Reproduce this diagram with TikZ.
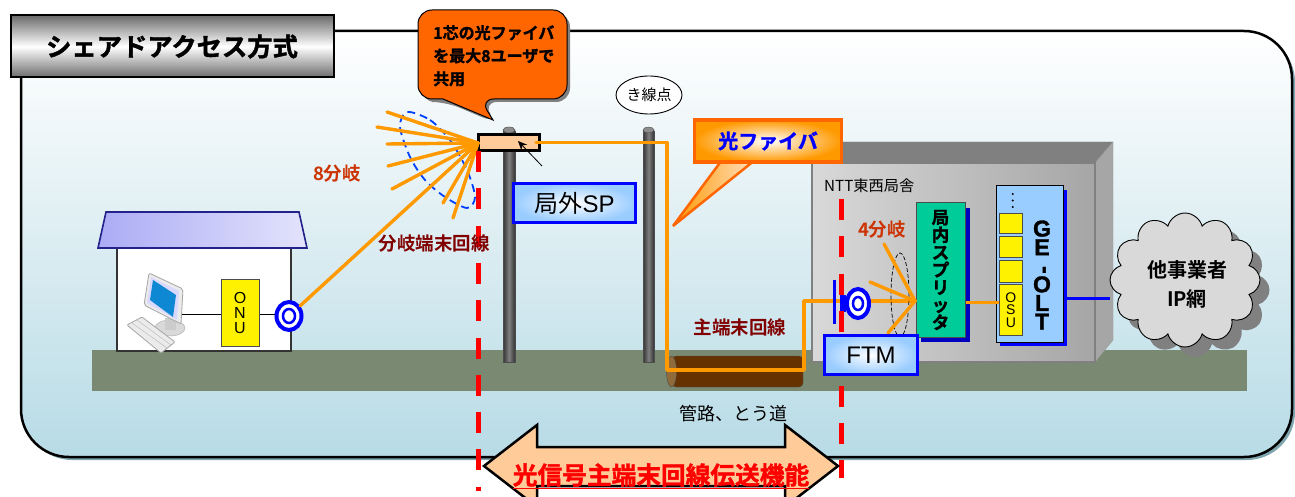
\documentclass[tikz,border=0pt]{standalone}
\usepackage{fontspec}
\setmainfont{Liberation Sans}
\newfontfamily\cjk[BoldFont={Noto Sans CJK JP Bold}]{Noto Sans CJK JP}
\newfontfamily\cjkh[FakeBold=1.5]{Noto Sans CJK JP Bold}
\newfontfamily\lath[FakeBold=1.5]{Liberation Sans Bold}
\usetikzlibrary{shapes.symbols,shapes.geometric,calc,arrows.meta}
\definecolor{panelA}{HTML}{DCEDF2}
\definecolor{panelB}{HTML}{B7DBE6}
\definecolor{panelS}{HTML}{7FA5AF}
\definecolor{groundc}{HTML}{7A8A72}
\definecolor{fibre}{HTML}{FF9900}
\definecolor{callo}{HTML}{FF6600}
\definecolor{peach}{HTML}{FFCC99}
\definecolor{roofA}{HTML}{ABABF5}
\definecolor{roofB}{HTML}{E3E3FC}
\definecolor{roofE}{HTML}{22228A}
\definecolor{boxblue}{HTML}{99CCFF}
\definecolor{dred}{HTML}{800000}
\definecolor{bred}{HTML}{CC3300}
\definecolor{splitg}{HTML}{00CC99}
\definecolor{pipe}{HTML}{663300}
\definecolor{pipeL}{HTML}{8F6B3C}
\definecolor{cloudc}{HTML}{D9D9D9}
\newcommand{\fs}[1]{\fontsize{#1}{#1}\selectfont}
\tikzset{
  x=1pt,y=-1pt,
  lab/.style={inner sep=0pt,font=\cjk\bfseries\fs{18.5}},
  fib/.style={draw=fibre,line width=3.5pt,line cap=round,line join=round},
  fan/.style={draw=fibre,line width=3.4pt,line cap=round},
  redd/.style={draw=red,line width=5pt,dash pattern=on 21pt off 16.3pt},
  bluebox/.style={draw=blue,line width=3pt,rectangle,inner color=white,outer color=boxblue,inner sep=0pt,font=\fs{24}},
  ringn/.style={ellipse,draw=blue,line width=4pt,fill=white,inner sep=0pt},
  cell/.style={rectangle,draw=black!70,line width=.8pt,fill=yellow,inner sep=0pt,anchor=north west},
  polebar/.style={left color=black!80,right color=black!80,middle color=black!50,draw=black!70,line width=.6pt},
}
\begin{document}
\begin{tikzpicture}
\useasboundingbox (0,0) rectangle (1295,497);
% main panel
\fill[panelS,rounded corners=48pt] (24,34) rectangle (1295,460);
\draw[black,line width=2.5pt,rounded corners=48pt,top color=white,bottom color=panelB,middle color=panelA] (21,31) rectangle (1292,457);
% title
\node[rectangle,draw=black,line width=2pt,minimum width=323pt,minimum height=62pt,top color=black!58,bottom color=black!58,middle color=white,inner sep=0pt,font=\cjkh\fs{25.3}] (title) at (172,46.5) {シェアドアクセス方式};
% ground
\fill[groundc] (92,350) rectangle (1247,391);
% house
\draw[black!80,line width=1.2pt,fill=white] (117,248) rectangle (291,351);
\draw[roofE,line width=1.6pt,left color=roofA,right color=roofB] (106,212) -- (299,212) -- (307,248) -- (98,248) -- cycle;
% PC
\coordinate (pcport) at (182,314);
\fill[black!15,draw=black!35] (170,328) ellipse (15 and 8);
\fill[black!20] (165,318) rectangle (176,330);
\draw[black!35,line width=.8pt,fill=black!8,rounded corners=2pt] (149,273) -- (183,289) -- (181,324) -- (144,305) -- cycle;
\fill[blue!15] (151,277) -- (179,291) -- (177,320) -- (147,303) -- cycle;
\fill[cyan!70!blue] (153,280) -- (176,295) -- (173,317) -- (150,300) -- cycle;
\draw[black!35,line width=.8pt,fill=black!8,rounded corners=1pt] (127,325) -- (142,317) -- (175,342) -- (161,353) -- cycle;
\draw[black!25,line width=.5pt] (132,323)--(167,348) (137,320)--(171,345);
% ONU
\node[rectangle,draw=black!70,line width=1pt,fill=yellow,minimum width=38pt,minimum height=67pt,inner sep=0pt,align=center,font=\fs{16}] (onu) at (240,312.5) {O\\[-1pt]N\\[-1pt]U};
\coordinate (onuL) at (onu.west|-pcport);
\coordinate (onuR) at (onu.east|-pcport);
\node[ringn,minimum width=25pt,minimum height=28pt] (ringA) at (289,316) {};
\draw[black,line width=1pt] (pcport) -- (onuL);
\draw[black,line width=1pt] (onuR) -- (ringA.west|-onuR);
% building
\fill[black!50,draw=black!45] (812,163) -- (843,142) -- (1113,142) -- (1095,163) -- cycle;
\fill[black!35,draw=black!40] (1095,163) -- (1113,142) -- (1113,340) -- (1095,362) -- cycle;
\draw[black!50,line width=1.4pt,left color=black!15,right color=black!35] (812,163) rectangle (1095,362);
\node[inner sep=0pt,anchor=west,font=\cjk\fs{15.2}] (ntt) at (824,186) {NTT東西局舎};
% poles
\draw[polebar] (503,131) rectangle (515,362);
\draw[polebar] (643,131) rectangle (654,362);
\draw[black!70,fill=black!45] (509,130) ellipse (6 and 3);
\draw[black!70,fill=black!45] (648.5,130) ellipse (5.5 and 3);
% conduit
\draw[black!70,fill=pipe,rounded corners=4pt] (672,356) rectangle (803,387);
\draw[black!70,fill=pipeL] (671.5,371.5) ellipse (5 and 15.5);
% splitter & OLT
\fill[blue!75!black] (921,208) rectangle (970,342);
\node[rectangle,draw=black!70,line width=1pt,fill=splitg,minimum width=49pt,minimum height=134pt,inner sep=0pt,align=center,font=\cjkh\fs{17.5}] (split) at (940.5,270) {局\\内\\ス\\プ\\リ\\ッ\\タ};
\fill[blue] (1000,190) rectangle (1067,346);
\node[rectangle,draw=black,line width=1pt,fill=boxblue,minimum width=67pt,minimum height=156pt,inner sep=0pt] (olt) at (1029.5,264) {};
\node[inner sep=0pt,align=center,font=\lath\fontsize{23}{18.6}\selectfont] (oltt) at (1042,275) {G\\E\\\hspace*{9pt}\rotatebox{90}{-}\\O\\L\\T};
\node[cell,minimum width=23pt,minimum height=20pt] (c1) at (999,213) {};
\node[cell,minimum width=23pt,minimum height=21pt] (c2) at (999,236) {};
\node[cell,minimum width=23pt,minimum height=22pt] (c3) at (999,260) {};
\node[cell,minimum width=23pt,minimum height=51pt,align=center,font=\fs{14}] (osu) at (999,284) {O\\[-1.5pt]S\\[-1.5pt]U};
\foreach \yy in {194,200.5,207} \fill[black] (1012.7,\yy) circle (1.1);
% fibres
\node[rectangle,draw=black,line width=2.5pt,fill=peach,minimum width=61pt,minimum height=16pt,inner sep=0pt] (hub) at (509,142.5) {};
\coordinate (hubc) at (478,143);
\draw[blue!75!cyan,line width=1.8pt,dash pattern=on 8pt off 5pt] plot[smooth cycle] coordinates {(407,112)(430,120)(450,140)(467,170)(475,197)(467,208)(445,197)(425,180)(410,157)(400,127)};
\foreach \ex/\ey in {387/112,377/127,387/144,388/166,392/189,443/203,453/218}
  \draw[fan] (\ex,\ey) -- (hubc);
\draw[fan] (ringA) -- (hubc);
\coordinate (bend1) at (667,142.5);
\coordinate (bend2) at (667,370);
\coordinate (bend3) at (804,370);
\coordinate (bend4) at (804,301);
\coordinate (hubf) at (536,142.5);
\coordinate (splitf) at (915,301);
\draw[fib] (hubf) -- (bend1) -- (bend2) -- (bend3) -- (bend4) -- (splitf);
\coordinate (lblA) at (542,166);
\coordinate (lblB) at (518,141);
\draw[black,line width=.8pt,-{Stealth[length=9pt,width=8pt]}] (lblA) -- (lblB);
% 4-way fan
\draw[black,line width=.7pt,dash pattern=on 4pt off 2pt] (900,295) ellipse (9 and 42);
\foreach \ex/\ey in {884/244,870/282,888/333} \draw[fan] (\ex,\ey) -- (splitf);
% ring 2
\draw[blue,line width=3pt] (834,280) -- (834,324);
\fill[blue] (840,295) rectangle (846,312);
\node[ringn,minimum width=22pt,minimum height=29pt] (ringB) at (858,303.5) {};
\draw[blue,line width=2.5pt] (ringA) ellipse (6 and 7);
\draw[blue,line width=2.5pt] (ringB) ellipse (5 and 6.5);
% connectors to OSU / cloud
\draw[fibre,line width=3pt] (split.east|-0,302) -- (osu.west|-0,302);
% dashed red lines
\draw[redd] (478.5,151) -- (478.5,491);
\draw[redd] (841.5,199) -- (841.5,478);
% FTM
\node[bluebox,minimum width=93pt,minimum height=39pt] (ftm) at (871,355) {FTM};
\node[bluebox,minimum width=122pt,minimum height=39pt] (sp) at (574.5,203) {{\cjk 局外}SP};
% cloud
\node[cloud,cloud puffs=12,aspect=1.1,fill=black!50,minimum width=149pt,minimum height=134pt,inner sep=0pt] (cloudS) at (1195,290) {};
\node[cloud,cloud puffs=12,aspect=1.1,draw=black,line width=.9pt,fill=cloudc,minimum width=150pt,minimum height=134pt,inner sep=0pt] (cloudN) at (1185,280) {};
\node[inner sep=0pt,align=center,font=\cjk\bfseries\fs{20}] (cloudT) at (1187,284) {他事業者\\[9pt]IP網};
\draw[blue,line width=3pt] (olt.east|-0,298) -- (cloudN.west|-0,298);
% callout
\fill[black!50,rounded corners=14pt,shift={(3,3)}] (443,99) -- (418,99) -- (418,10) -- (567,10) -- (567,99) -- (480,99) -- (493,120) -- cycle;
\draw[black,line width=1pt,fill=callo,rounded corners=14pt] (443,99) -- (418,99) -- (418,10) -- (567,10) -- (567,99) -- (480,99) [sharp corners] -- (493,120) -- cycle;
\node[inner sep=0pt,anchor=north west,align=left,font=\cjkh\fs{16}] (callt) at (433,25) {1芯の光ファイバ\\[7pt]を最大8ユーザで\\[7pt]共用};
% ki-sen-ten
\node[ellipse,draw=black,line width=.9pt,fill=white,minimum width=66pt,minimum height=38pt,inner sep=0pt,font=\cjk\fs{15}] (ksn) at (649,95) {き線点};
% fibre label
\draw[callo,line width=2.5pt,line join=bevel,left color=fibre,right color=peach!60!white] (722,160) -- (673,226) -- (755,160) -- cycle;
\node[rectangle,draw=callo,line width=3.5pt,inner color=white,outer color=fibre,minimum width=147pt,minimum height=42pt,inner sep=0pt,text=blue,font=\cjkh\fs{20}] (fl) at (768,141) {光ファイバ};
% labels
\node[lab,text=bred] (l8) at (337,174) {8分岐};
\node[lab,text=dred] (lb) at (434,244) {分岐端末回線};
\node[lab,text=bred] (l4) at (882,230) {4分岐};
\node[lab,text=dred] (lm) at (740,327) {主端末回線};
\node[inner sep=0pt,font=\cjk\fs{18}] (lk) at (733,414) {管路、とう道};
% double arrow
\begin{scope}
\clip (0,0) rectangle (1295,497);
\draw[black,line width=2.5pt,fill=peach,line join=miter] (484,466) -- (537,425) -- (537,447) -- (785,447) -- (785,425) -- (838,466) -- (785,507) -- (785,486) -- (537,486) -- (537,507) -- cycle;
\node[inner sep=0pt,text=red,font=\cjkh\fs{24.7}] (arrt) at (661,476) {\underline{光信号主端末回線伝送機能}};
\end{scope}
\end{tikzpicture}
\end{document}
